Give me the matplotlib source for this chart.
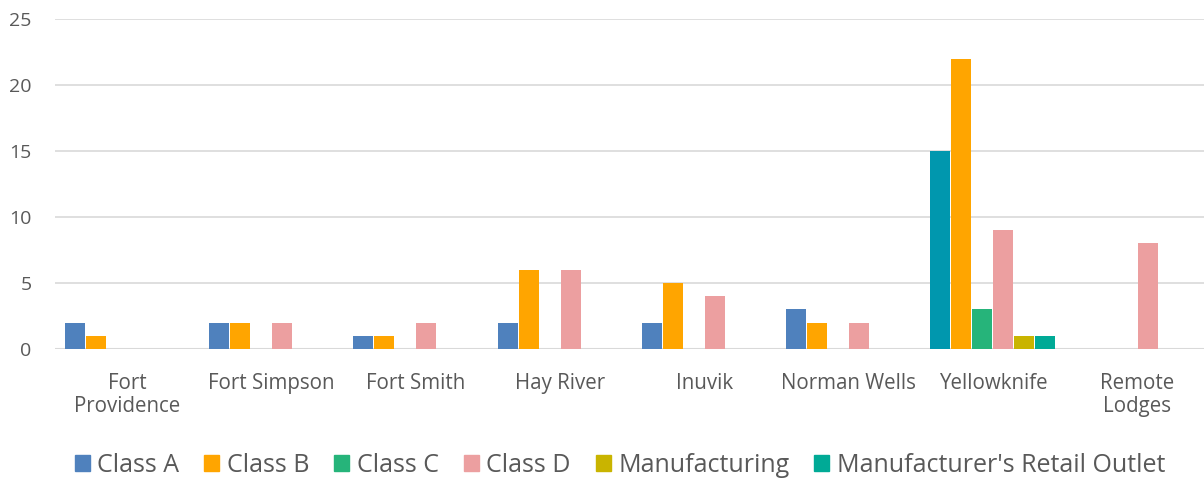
import matplotlib
matplotlib.use("Agg")
import matplotlib.pyplot as plt
import numpy as np
from matplotlib.patches import Patch

categories = ["Fort\nProvidence", "Fort Simpson", "Fort Smith", "Hay River", "Inuvik",
              "Norman Wells", "Yellowknife", "Remote\nLodges"]
series = ["Class A", "Class B", "Class C", "Class D", "Manufacturing", "Manufacturer's Retail Outlet"]
class_a = [2, 2, 1, 2, 2, 3, 15, 0]
class_b = [1, 2, 1, 6, 5, 2, 22, 0]
class_c = [0, 0, 0, 0, 0, 0, 3, 0]
class_d = [0, 2, 2, 6, 4, 2, 9, 8]
manufacturing = [0, 0, 0, 0, 0, 0, 1, 0]
retail_outlet = [0, 0, 0, 0, 0, 0, 1, 0]
values = [class_a, class_b, class_c, class_d, manufacturing, retail_outlet]
colors = ["#4F81BD", "#FFA500", "#26B47A", "#EC9FA0", "#C9B400", "#00AA96"]
yk_class_a_color = "#0097AE"

plt.rcParams['font.family'] = ['Open Sans', 'DejaVu Sans']
fig = plt.figure(figsize=(12.04, 4.8), dpi=100)
cat_px = 144.3
left_px = 55
ax = fig.add_axes([left_px/1204, 1-349/480, 8*cat_px/1204, 330/480])

x = np.arange(len(categories))
step = 21/cat_px
w = 20/cat_px
for i, (vals, c) in enumerate(zip(values, colors)):
    pos = x - 2.5*step + i*step
    cols = [c]*len(vals)
    if i == 0:
        cols[6] = yk_class_a_color
    ax.bar(pos, vals, width=w, color=cols, zorder=3)

ax.set_xlim(-0.5, len(categories)-0.5)
ax.set_ylim(0, 25)
ax.set_yticks([0, 5, 10, 15, 20, 25])
ax.yaxis.grid(True, color="#D9D9D9", linewidth=1.2, zorder=0)
for s in ax.spines.values():
    s.set_visible(False)
ax.axhline(0, color="#D9D9D9", linewidth=1.5, zorder=2)
ax.tick_params(axis='both', length=0, labelcolor="#595959")
ax.tick_params(axis='y', pad=17, labelsize=14)
ax.tick_params(axis='x', pad=17, labelsize=14.8)
ax.set_xticks(x)
ax.set_xticklabels(categories, linespacing=1.18)

handles = [Patch(color=c) for c in colors]
fig.legend(handles, series, loc='center', bbox_to_anchor=(0.515, 0.031), ncol=6,
           frameon=False, fontsize=18, labelcolor="#595959", handlelength=0.6,
           handleheight=0.6, handletextpad=0.3, columnspacing=1.0,
           borderpad=0, borderaxespad=0)

fig.savefig("out.png", dpi=100)
